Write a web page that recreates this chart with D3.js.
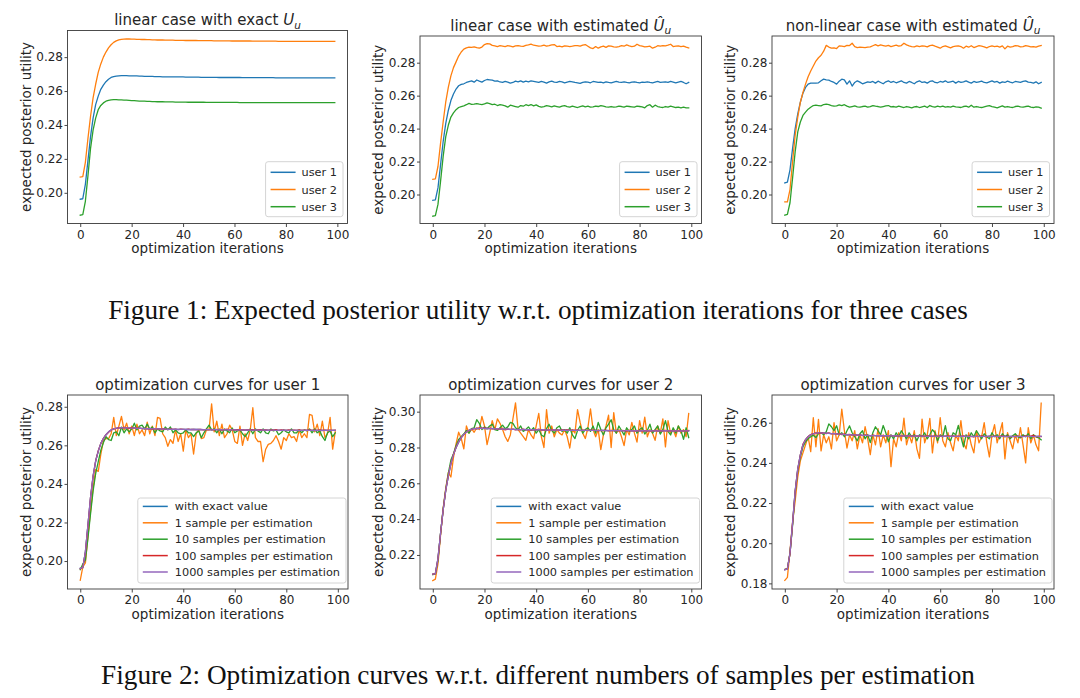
<!DOCTYPE html>
<html><head><meta charset="utf-8">
<script src="https://cdn.jsdelivr.net/npm/d3@7"></script>
<style>body{margin:0;background:#fff}svg{display:block}</style>
</head><body>
<svg id="c" width="1080" height="698"></svg>
<script>
// ---------- data ----------
const xTicks = [0, 20, 40, 60, 80, 100];
const yTicksA = [0.20, 0.22, 0.24, 0.26, 0.28];
const yTicksB = [0.22, 0.24, 0.26, 0.28, 0.30];
const yTicksC = [0.18, 0.20, 0.22, 0.24, 0.26];
const userNames = ["user 1", "user 2", "user 3"];
const sampleNames = ["with exact value", "1 sample per estimation", "10 samples per estimation", "100 samples per estimation", "1000 samples per estimation"];

// Figure 1, panel 1: exact utility
const exact1 = [.1962,.1965,.2050,.2190,.2330,.2440,.2520,.2570,.2610,.2635,
.2655,.2670,.2680,.2685,.2688,.2690,.2691,.2691,.2691,.2690,
.2690,.2689,.2689,.2688,.2688,.2687,.2687,.2686,.2686,.2685,
.2685,.2685,.2684,.2684,.2684,.2684,.2683,.2683,.2683,.2683,
.2683,.2682,.2682,.2682,.2682,.2682,.2682,.2681,.2681,.2681,
.2681,.2681,.2681,.2681,.2680,.2680,.2680,.2680,.2680,.2680,
.2680,.2680,.2680,.2679,.2679,.2679,.2679,.2679,.2679,.2679,
.2679,.2679,.2679,.2679,.2679,.2679,.2678,.2678,.2678,.2678,
.2678,.2678,.2678,.2678,.2678,.2678,.2678,.2678,.2678,.2678,
.2678,.2678,.2678,.2678,.2678,.2678,.2678,.2678,.2678,.2678];
const exact2 = [.2093,.2095,.2180,.2320,.2450,.2560,.2640,.2710,.2760,.2800,
.2830,.2855,.2873,.2887,.2896,.2902,.2905,.2906,.2907,.2907,
.2906,.2906,.2905,.2905,.2904,.2904,.2903,.2903,.2902,.2902,
.2901,.2901,.2901,.2900,.2900,.2900,.2900,.2899,.2899,.2899,
.2899,.2898,.2898,.2898,.2898,.2898,.2897,.2897,.2897,.2897,
.2897,.2897,.2896,.2896,.2896,.2896,.2896,.2896,.2896,.2895,
.2895,.2895,.2895,.2895,.2895,.2895,.2895,.2894,.2894,.2894,
.2894,.2894,.2894,.2894,.2894,.2894,.2894,.2893,.2893,.2893,
.2893,.2893,.2893,.2893,.2893,.2893,.2893,.2893,.2893,.2893,
.2893,.2893,.2893,.2893,.2893,.2893,.2893,.2893,.2893,.2893];
const exact3 = [.1868,.1872,.1950,.2100,.2260,.2370,.2440,.2490,.2515,.2530,
.2540,.2545,.2548,.2549,.2549,.2548,.2548,.2547,.2546,.2545,
.2544,.2543,.2542,.2541,.2540,.2540,.2539,.2539,.2538,.2538,
.2537,.2537,.2537,.2536,.2536,.2536,.2536,.2535,.2535,.2535,
.2535,.2535,.2534,.2534,.2534,.2534,.2534,.2534,.2534,.2533,
.2533,.2533,.2533,.2533,.2533,.2533,.2533,.2533,.2533,.2533,
.2533,.2533,.2532,.2532,.2532,.2532,.2532,.2532,.2532,.2532,
.2532,.2532,.2532,.2532,.2532,.2532,.2532,.2532,.2532,.2532,
.2532,.2532,.2532,.2532,.2532,.2532,.2532,.2532,.2532,.2532,
.2532,.2532,.2532,.2532,.2532,.2532,.2532,.2532,.2532,.2532];

// Figure 1, panel 2: linear case, estimated
const linEst1 = [.1965,.1968,.2040,.2180,.2320,.2430,.2510,.2570,.2610,.2640,
.2660,.2668,.2672,.2680,.2685,.2690,.2682,.2695,.2688,.2682,
.2692,.2698,.2696,.2694,.2688,.2690,.2683,.2680,.2686,.2682,
.2676,.2680,.2688,.2684,.2690,.2682,.2688,.2684,.2690,.2687,
.2684,.2680,.2686,.2682,.2676,.2684,.2688,.2682,.2680,.2686,
.2684,.2678,.2682,.2686,.2684,.2680,.2678,.2674,.2680,.2684,
.2682,.2678,.2686,.2684,.2680,.2682,.2678,.2684,.2680,.2678,
.2682,.2686,.2682,.2680,.2684,.2680,.2678,.2682,.2684,.2680,
.2678,.2682,.2680,.2684,.2680,.2678,.2682,.2686,.2680,.2682,
.2684,.2680,.2686,.2682,.2678,.2682,.2686,.2680,.2672,.2680];
const linEst2 = [.2092,.2095,.2170,.2310,.2440,.2560,.2650,.2720,.2770,.2805,
.2840,.2865,.2882,.2890,.2894,.2893,.2896,.2891,.2888,.2895,
.2910,.2916,.2914,.2905,.2902,.2898,.2903,.2901,.2898,.2903,
.2900,.2896,.2902,.2904,.2901,.2899,.2905,.2908,.2913,.2906,
.2904,.2900,.2902,.2906,.2900,.2903,.2908,.2910,.2898,.2900,
.2896,.2902,.2900,.2898,.2900,.2903,.2904,.2900,.2907,.2910,
.2900,.2890,.2886,.2898,.2888,.2896,.2900,.2893,.2902,.2900,
.2896,.2894,.2898,.2903,.2900,.2908,.2902,.2898,.2900,.2912,
.2904,.2900,.2896,.2898,.2900,.2888,.2894,.2903,.2900,.2904,
.2902,.2906,.2912,.2898,.2900,.2902,.2898,.2900,.2894,.2890];
const linEst3 = [.1868,.1872,.1940,.2080,.2230,.2350,.2420,.2470,.2495,.2515,
.2528,.2534,.2538,.2545,.2553,.2547,.2548,.2552,.2548,.2546,
.2550,.2556,.2552,.2546,.2548,.2540,.2545,.2542,.2538,.2530,
.2542,.2538,.2534,.2530,.2540,.2536,.2545,.2540,.2546,.2538,
.2544,.2535,.2530,.2534,.2540,.2536,.2532,.2538,.2534,.2530,
.2536,.2540,.2534,.2530,.2536,.2532,.2528,.2534,.2538,.2532,
.2536,.2530,.2532,.2536,.2534,.2540,.2536,.2532,.2530,.2534,
.2530,.2532,.2536,.2534,.2530,.2536,.2534,.2532,.2530,.2536,
.2534,.2532,.2526,.2540,.2545,.2530,.2542,.2534,.2530,.2528,
.2534,.2530,.2536,.2532,.2528,.2530,.2526,.2530,.2526,.2526];

// Figure 1, panel 3: non-linear case, estimated
const nonlin1 = [.2070,.2075,.2150,.2280,.2400,.2490,.2560,.2615,.2650,.2670,
.2676,.2676,.2676,.2678,.2690,.2700,.2696,.2694,.2686,.2680,
.2670,.2688,.2700,.2696,.2670,.2690,.2658,.2680,.2690,.2682,
.2672,.2678,.2684,.2680,.2686,.2676,.2688,.2680,.2672,.2684,
.2690,.2680,.2686,.2678,.2684,.2690,.2680,.2676,.2686,.2680,
.2672,.2684,.2690,.2680,.2684,.2676,.2686,.2690,.2680,.2678,
.2686,.2682,.2690,.2680,.2684,.2688,.2676,.2686,.2680,.2684,
.2690,.2682,.2676,.2686,.2680,.2684,.2688,.2680,.2678,.2684,
.2690,.2682,.2686,.2676,.2684,.2680,.2688,.2682,.2678,.2686,
.2684,.2680,.2686,.2690,.2682,.2680,.2676,.2684,.2672,.2680];
const nonlin2 = [.1955,.1955,.2030,.2200,.2360,.2470,.2560,.2620,.2670,.2715,
.2750,.2780,.2810,.2830,.2845,.2870,.2905,.2895,.2888,.2890,
.2886,.2902,.2900,.2898,.2905,.2904,.2918,.2898,.2892,.2894,
.2893,.2892,.2895,.2896,.2903,.2910,.2902,.2908,.2904,.2900,
.2905,.2898,.2902,.2906,.2900,.2904,.2918,.2908,.2902,.2898,
.2896,.2902,.2898,.2902,.2900,.2896,.2904,.2906,.2900,.2895,
.2888,.2898,.2902,.2896,.2890,.2897,.2900,.2902,.2898,.2888,
.2900,.2894,.2903,.2892,.2898,.2903,.2900,.2896,.2890,.2898,
.2902,.2898,.2900,.2895,.2902,.2884,.2900,.2895,.2898,.2904,
.2902,.2896,.2898,.2904,.2900,.2896,.2898,.2894,.2900,.2904];
const nonlin3 = [.1875,.1880,.1950,.2100,.2260,.2380,.2440,.2480,.2500,.2518,
.2530,.2540,.2542,.2540,.2538,.2546,.2548,.2545,.2540,.2536,
.2538,.2544,.2540,.2545,.2536,.2530,.2534,.2538,.2532,.2530,
.2534,.2536,.2530,.2534,.2540,.2536,.2534,.2530,.2534,.2538,
.2540,.2532,.2534,.2530,.2536,.2532,.2528,.2534,.2530,.2526,
.2532,.2534,.2528,.2532,.2536,.2528,.2540,.2534,.2530,.2536,
.2532,.2536,.2530,.2534,.2530,.2536,.2532,.2530,.2528,.2534,
.2536,.2530,.2542,.2530,.2534,.2530,.2528,.2532,.2536,.2540,
.2534,.2530,.2526,.2532,.2538,.2530,.2534,.2530,.2528,.2534,
.2536,.2532,.2530,.2534,.2536,.2530,.2528,.2532,.2530,.2524];

// Figure 2, user 1
const u1s1 = [.1900,.1970,.1990,.2130,.2260,.2380,.2475,.2465,.2555,.2625,
.2635,.2635,.2660,.2745,.2650,.2700,.2750,.2680,.2715,.2660,
.2700,.2650,.2710,.2660,.2680,.2650,.2720,.2660,.2700,.2650,
.2745,.2740,.2660,.2640,.2595,.2630,.2610,.2680,.2620,.2660,
.2570,.2680,.2640,.2660,.2555,.2660,.2680,.2635,.2640,.2680,
.2680,.2815,.2670,.2725,.2650,.2710,.2640,.2660,.2705,.2680,
.2620,.2610,.2700,.2600,.2660,.2625,.2680,.2795,.2640,.2620,
.2620,.2515,.2580,.2605,.2610,.2625,.2650,.2620,.2580,.2640,
.2625,.2660,.2640,.2645,.2620,.2680,.2640,.2660,.2640,.2760,
.2755,.2670,.2710,.2650,.2725,.2640,.2660,.2745,.2580,.2670];
const u1s10 = [.1955,.1985,.2005,.2120,.2245,.2365,.2455,.2515,.2575,.2615,
.2645,.2630,.2625,.2665,.2670,.2650,.2695,.2665,.2685,.2670,
.2685,.2715,.2680,.2700,.2705,.2685,.2710,.2685,.2695,.2665,
.2685,.2675,.2670,.2695,.2680,.2695,.2665,.2680,.2665,.2660,
.2665,.2680,.2665,.2665,.2645,.2665,.2675,.2640,.2665,.2685,
.2705,.2680,.2685,.2665,.2685,.2660,.2685,.2675,.2665,.2690,
.2665,.2675,.2680,.2660,.2645,.2665,.2685,.2660,.2685,.2675,
.2665,.2685,.2665,.2660,.2685,.2675,.2680,.2655,.2665,.2680,
.2670,.2665,.2685,.2665,.2665,.2680,.2665,.2680,.2675,.2685,
.2665,.2685,.2665,.2675,.2645,.2625,.2665,.2675,.2645,.2665];
const u1s100 = [.1960,.1968,.2045,.2185,.2330,.2440,.2520,.2572,.2610,.2636,
.2655,.2668,.2680,.2686,.2688,.2692,.2690,.2693,.2690,.2688,
.2692,.2690,.2688,.2690,.2686,.2688,.2685,.2687,.2684,.2686,
.2685,.2683,.2686,.2684,.2682,.2685,.2683,.2684,.2682,.2684,
.2683,.2681,.2684,.2682,.2683,.2681,.2683,.2682,.2680,.2683,
.2681,.2682,.2680,.2683,.2681,.2679,.2682,.2684,.2680,.2681,
.2679,.2682,.2680,.2681,.2679,.2681,.2680,.2682,.2679,.2680,
.2681,.2679,.2680,.2678,.2680,.2679,.2681,.2678,.2680,.2679,
.2677,.2680,.2678,.2679,.2677,.2680,.2678,.2679,.2677,.2680,
.2678,.2679,.2677,.2680,.2678,.2679,.2677,.2679,.2678,.2679];
const u1s1000 = [.1962,.1966,.2048,.2188,.2330,.2440,.2519,.2570,.2610,.2635,
.2655,.2670,.2680,.2685,.2689,.2690,.2692,.2691,.2690,.2691,
.2689,.2690,.2688,.2689,.2687,.2688,.2686,.2687,.2685,.2686,
.2685,.2684,.2685,.2684,.2683,.2684,.2683,.2684,.2682,.2683,
.2683,.2682,.2683,.2681,.2682,.2682,.2681,.2682,.2681,.2681,
.2681,.2680,.2681,.2681,.2680,.2681,.2680,.2680,.2681,.2680,
.2680,.2679,.2680,.2680,.2679,.2680,.2679,.2679,.2680,.2679,
.2679,.2680,.2679,.2678,.2679,.2679,.2678,.2679,.2678,.2679,
.2678,.2678,.2679,.2678,.2678,.2677,.2678,.2678,.2679,.2678,
.2678,.2677,.2678,.2678,.2677,.2678,.2678,.2677,.2678,.2678];

// Figure 2, user 2
const u2s1 = [.2057,.2065,.2150,.2310,.2460,.2570,.2660,.2635,.2745,.2820,
.2885,.2850,.2792,.2920,.2880,.2905,.2885,.2910,.2900,.2974,
.2920,.2816,.2880,.2950,.2900,.2960,.2935,.2900,.2860,.2834,
.2870,.2960,.3049,.2900,.2880,.2860,.2840,.2900,.2870,.2850,
.2920,.2990,.2860,.2800,.3011,.2880,.2920,.2860,.2900,.2880,
.2870,.2900,.2860,.2797,.2900,.2880,.3011,.2940,.2880,.2850,
.2910,.3016,.2900,.2860,.2900,.2788,.2870,.2920,.2980,.2800,
.2995,.2880,.2900,.2860,.2810,.2900,.2870,.2940,.2880,.2830,
.2950,.2880,.2970,.2860,.2900,.2880,.2840,.2920,.2880,.2960,
.2803,.2950,.2880,.2900,.2860,.2920,.2880,.2900,.2860,.2990];
const u2s10 = [.2090,.2095,.2170,.2320,.2455,.2565,.2655,.2730,.2765,.2810,
.2845,.2860,.2875,.2895,.2880,.2905,.2910,.2955,.2935,.2900,
.2915,.2905,.2920,.2930,.2900,.2895,.2910,.2925,.2905,.2915,
.2940,.2935,.2910,.2900,.2920,.2890,.2900,.2915,.2895,.2910,
.2880,.2900,.2870,.2860,.2905,.2930,.2895,.2880,.2910,.2920,
.2890,.2900,.2880,.2910,.2870,.2850,.2895,.2920,.2880,.2900,
.2910,.2890,.2920,.2880,.2940,.2900,.2870,.2910,.2930,.2955,
.2900,.2880,.2920,.2895,.2870,.2910,.2890,.2900,.2920,.2880,
.2900,.2910,.2875,.2895,.2930,.2880,.2900,.2920,.2875,.2900,
.2950,.2890,.2870,.2910,.2880,.2920,.2895,.2845,.2910,.2855];
const u2s100 = [.2093,.2096,.2178,.2318,.2450,.2560,.2642,.2710,.2762,.2800,
.2832,.2855,.2872,.2888,.2895,.2900,.2906,.2904,.2909,.2906,
.2910,.2905,.2908,.2904,.2906,.2902,.2905,.2902,.2899,.2903,
.2900,.2902,.2898,.2901,.2899,.2902,.2898,.2900,.2897,.2900,
.2898,.2902,.2897,.2899,.2896,.2898,.2900,.2896,.2898,.2895,
.2898,.2896,.2899,.2895,.2897,.2896,.2898,.2894,.2897,.2896,
.2894,.2897,.2895,.2896,.2893,.2896,.2894,.2897,.2893,.2895,
.2894,.2896,.2893,.2895,.2894,.2892,.2895,.2893,.2894,.2892,
.2895,.2893,.2894,.2892,.2894,.2893,.2895,.2892,.2894,.2893,
.2895,.2892,.2894,.2893,.2892,.2894,.2893,.2894,.2892,.2895];
const u2s1000 = [.2093,.2095,.2180,.2320,.2450,.2560,.2640,.2710,.2760,.2800,
.2830,.2855,.2873,.2886,.2896,.2902,.2905,.2907,.2906,.2908,
.2906,.2907,.2905,.2906,.2904,.2905,.2903,.2904,.2902,.2903,
.2901,.2902,.2900,.2901,.2900,.2901,.2899,.2900,.2899,.2900,
.2898,.2899,.2898,.2899,.2897,.2898,.2897,.2898,.2897,.2897,
.2896,.2897,.2896,.2897,.2896,.2896,.2897,.2895,.2896,.2896,
.2895,.2896,.2895,.2895,.2894,.2895,.2895,.2894,.2895,.2894,
.2894,.2895,.2894,.2894,.2893,.2894,.2894,.2893,.2894,.2893,
.2893,.2894,.2893,.2893,.2894,.2893,.2893,.2892,.2893,.2893,
.2894,.2893,.2893,.2892,.2893,.2893,.2892,.2893,.2893,.2893];

// Figure 2, user 3
const u3s1 = [.1815,.1830,.1960,.2105,.2210,.2330,.2410,.2450,.2490,.2530,
.2456,.2625,.2480,.2617,.2460,.2540,.2500,.2530,.2470,.2600,
.2510,.2540,.2668,.2560,.2474,.2540,.2510,.2560,.2470,.2540,
.2500,.2580,.2520,.2441,.2540,.2490,.2570,.2480,.2540,.2500,
.2560,.2381,.2520,.2480,.2550,.2510,.2623,.2490,.2540,.2500,
.2560,.2470,.2423,.2618,.2500,.2540,.2622,.2450,.2560,.2500,
.2625,.2510,.2480,.2550,.2500,.2460,.2540,.2510,.2610,.2500,
.2470,.2550,.2490,.2450,.2560,.2500,.2530,.2600,.2500,.2430,
.2540,.2590,.2500,.2550,.2600,.2420,.2550,.2510,.2470,.2540,
.2500,.2575,.2490,.2400,.2575,.2500,.2540,.2490,.2460,.2697];
const u3s10 = [.1870,.1872,.1950,.2090,.2250,.2360,.2430,.2480,.2505,.2520,
.2530,.2538,.2526,.2545,.2550,.2540,.2555,.2594,.2580,.2560,
.2585,.2540,.2550,.2530,.2560,.2584,.2550,.2530,.2510,.2545,
.2560,.2520,.2540,.2501,.2550,.2580,.2560,.2540,.2586,.2550,
.2505,.2540,.2520,.2550,.2530,.2560,.2540,.2520,.2550,.2530,
.2540,.2510,.2540,.2530,.2550,.2520,.2540,.2565,.2550,.2510,
.2540,.2530,.2585,.2520,.2510,.2550,.2540,.2587,.2530,.2480,
.2540,.2520,.2550,.2530,.2560,.2540,.2520,.2545,.2530,.2520,
.2550,.2530,.2540,.2520,.2545,.2530,.2540,.2520,.2535,.2545,
.2530,.2525,.2540,.2530,.2545,.2520,.2540,.2530,.2525,.2515];
const u3s100 = [.1868,.1873,.1948,.2098,.2258,.2368,.2440,.2492,.2516,.2531,
.2541,.2546,.2549,.2547,.2550,.2548,.2546,.2549,.2545,.2547,
.2543,.2546,.2541,.2544,.2540,.2542,.2538,.2541,.2537,.2540,
.2536,.2539,.2537,.2535,.2538,.2536,.2534,.2537,.2535,.2536,
.2534,.2537,.2535,.2533,.2536,.2534,.2536,.2533,.2535,.2534,
.2532,.2535,.2533,.2534,.2532,.2535,.2533,.2531,.2534,.2532,
.2534,.2531,.2533,.2535,.2532,.2534,.2531,.2533,.2532,.2534,
.2531,.2533,.2532,.2530,.2533,.2531,.2534,.2532,.2530,.2533,
.2531,.2533,.2530,.2532,.2534,.2531,.2533,.2530,.2532,.2531,
.2533,.2530,.2532,.2534,.2531,.2533,.2537,.2530,.2532,.2531];
const u3s1000 = [.1868,.1871,.1951,.2101,.2259,.2370,.2439,.2490,.2515,.2530,
.2540,.2545,.2548,.2549,.2549,.2548,.2548,.2547,.2546,.2546,
.2544,.2543,.2543,.2541,.2541,.2540,.2539,.2539,.2538,.2538,
.2537,.2537,.2537,.2536,.2536,.2536,.2535,.2536,.2535,.2535,
.2535,.2534,.2535,.2534,.2534,.2534,.2534,.2533,.2534,.2533,
.2533,.2534,.2533,.2533,.2533,.2532,.2533,.2533,.2532,.2533,
.2533,.2532,.2533,.2532,.2532,.2533,.2532,.2532,.2532,.2533,
.2532,.2532,.2531,.2532,.2532,.2532,.2531,.2532,.2532,.2532,
.2531,.2532,.2532,.2531,.2532,.2532,.2531,.2532,.2532,.2531,
.2532,.2532,.2531,.2532,.2532,.2532,.2531,.2532,.2532,.2532];

// ---------- layout / styling ----------
const C = ["#1f77b4", "#ff7f0e", "#2ca02c", "#d62728", "#9467bd"];
const FONT = "DejaVu Sans";
const svg = d3.select("#c");

const panels = [
  { title: [{t: "linear case with exact "}, {t: "U", it: 1}, {t: "u", it: 1, sub: 1}],
    box: [67.5, 30.5, 347.5, 223.5], yDom: [0.1819, 0.2957], yTicks: yTicksA,
    series: [exact1, exact2, exact3], names: userNames, colors: [C[0], C[1], C[2]] },
  { title: [{t: "linear case with estimated "}, {t: "\u00DB", it: 1}, {t: "u", it: 1, sub: 1}],
    box: [420, 36, 701.5, 223.5], yDom: [0.1824, 0.2962], yTicks: yTicksA,
    series: [linEst1, linEst2, linEst3], names: userNames, colors: [C[0], C[1], C[2]] },
  { title: [{t: "non-linear case with estimated "}, {t: "\u00DB", it: 1}, {t: "u", it: 1, sub: 1}],
    box: [772, 36, 1054, 223.5], yDom: [0.1824, 0.2962], yTicks: yTicksA,
    series: [nonlin1, nonlin2, nonlin3], names: userNames, colors: [C[0], C[1], C[2]] },
  { title: [{t: "optimization curves for user 1"}],
    box: [67.5, 395, 348, 589], yDom: [0.1855, 0.2861], yTicks: yTicksA,
    series: [exact1, u1s1, u1s10, u1s100, u1s1000], names: sampleNames, colors: C },
  { title: [{t: "optimization curves for user 2"}],
    box: [420, 395, 701.5, 589], yDom: [0.2010, 0.3093], yTicks: yTicksB,
    series: [exact2, u2s1, u2s10, u2s100, u2s1000], names: sampleNames, colors: C },
  { title: [{t: "optimization curves for user 3"}],
    box: [772, 395, 1054, 589], yDom: [0.1772, 0.2738], yTicks: yTicksC,
    series: [exact3, u3s1, u3s10, u3s100, u3s1000], names: sampleNames, colors: C },
];

panels.forEach((p, pi) => {
  const [L, T, R, B] = p.box;
  const x = d3.scaleLinear().domain([-4.95, 103.95]).range([L, R]);
  const y = d3.scaleLinear().domain(p.yDom).range([B, T]);
  const g = svg.append("g");

  const clipId = "clip" + pi;
  g.append("clipPath").attr("id", clipId).append("rect")
    .attr("x", L).attr("y", T).attr("width", R - L).attr("height", B - T);

  const line = d3.line().x((d, i) => x(i)).y(d => y(d));
  const lg = g.append("g").attr("clip-path", `url(#${clipId})`);
  p.series.forEach((s, si) => {
    lg.append("path").datum(s).attr("d", line)
      .attr("fill", "none").attr("stroke", p.colors[si])
      .attr("stroke-width", 1.3).attr("stroke-linejoin", "round").attr("stroke-linecap", "square");
  });

  // axes
  const xa = d3.axisBottom(x).tickValues(xTicks).tickSize(3.5).tickPadding(3).tickFormat(d3.format("d"));
  const ya = d3.axisLeft(y).tickValues(p.yTicks).tickSize(3).tickPadding(1.5).tickFormat(d3.format(".2f"));
  const gx = g.append("g").attr("transform", `translate(0,${B})`).call(xa);
  const gy = g.append("g").attr("transform", `translate(${L},0)`).call(ya);
  [gx, gy].forEach(a => {
    a.select(".domain").remove();
    a.selectAll(".tick line").attr("stroke", "#333").attr("stroke-width", 0.9);
    a.selectAll(".tick text").attr("font-family", FONT).attr("font-size", 12).attr("fill", "#262626");
  });
  g.append("rect").attr("x", L).attr("y", T).attr("width", R - L).attr("height", B - T)
    .attr("fill", "none").attr("stroke", "#3a3a3a").attr("stroke-width", 0.9);

  // labels
  g.append("text").attr("x", (L + R) / 2).attr("y", B + 29.5).attr("text-anchor", "middle")
    .attr("font-family", FONT).attr("font-size", 13.5).attr("fill", "#262626")
    .text("optimization iterations");
  g.append("text").attr("transform", `translate(${L - 37},${(T + B) / 2}) rotate(-90)`)
    .attr("text-anchor", "middle").attr("font-family", FONT).attr("font-size", 13.5).attr("fill", "#262626")
    .text("expected posterior utility");

  const tt = g.append("text").attr("x", (L + R) / 2).attr("y", T - 5.5).attr("text-anchor", "middle")
    .attr("font-family", FONT).attr("font-size", 15).attr("fill", "#262626");
  p.title.forEach(s => {
    const ts = tt.append("tspan").text(s.t);
    if (s.it) ts.attr("font-style", "italic");
    if (s.sub) ts.attr("font-size", 10.5).attr("dy", 3.5);
  });

  // legend
  const n = p.series.length;
  const fs = 11.3;
  const big = n > 3;
  const spacing = big ? 16.4 : 17.2;
  const leg = g.append("g");
  const texts = p.names.map((nm, i) => leg.append("text").attr("font-family", FONT)
    .attr("font-size", fs).attr("fill", "#262626").text(nm));
  const tw = d3.max(texts, t => t.node().getComputedTextLength());
  const gapR = big ? 2 : 4.5, gapB = big ? 6 : 6.8;
  const textOff = big ? 37 : 36;
  const boxW = textOff + tw + 6;
  const boxH = big ? 85 : 55;
  const bx = R - gapR - boxW, by = B - gapB - boxH;
  leg.insert("rect", ":first-child").attr("x", bx).attr("y", by).attr("width", boxW).attr("height", boxH)
    .attr("rx", 2.5).attr("fill", "#fff").attr("fill-opacity", 0.8)
    .attr("stroke", "#cfcfcf").attr("stroke-width", 0.9);
  const firstY = by + (big ? 8.4 : 10.6);
  p.names.forEach((nm, i) => {
    const cy = firstY + i * spacing;
    leg.append("line").attr("x1", bx + 5).attr("x2", bx + 30).attr("y1", cy).attr("y2", cy)
      .attr("stroke", p.colors[i]).attr("stroke-width", 1.5);
    texts[i].attr("x", bx + textOff).attr("y", cy + 4);
  });
});

// captions
function caption(str, cx, cy, targetW) {
  const t = svg.append("text").attr("x", cx).attr("text-anchor", "middle")
    .attr("font-family", "Liberation Serif").attr("font-size", 24).attr("fill", "#111").text(str);
  const w = t.node().getComputedTextLength();
  const fs = 24 * targetW / w;
  t.attr("font-size", fs).attr("y", cy + fs * 0.33);
}
caption("Figure 1: Expected posterior utility w.r.t. optimization iterations for three cases", 538, 310, 860);
caption("Figure 2: Optimization curves w.r.t. different numbers of samples per estimation", 538, 675, 874);
</script>
</body></html>
